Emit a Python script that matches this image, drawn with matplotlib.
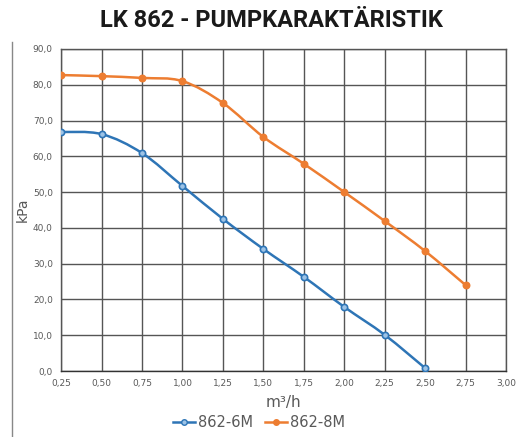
import numpy as np
import matplotlib.pyplot as plt
from matplotlib.path import Path
from matplotlib.patches import PathPatch
from matplotlib.lines import Line2D

flow = [0.25, 0.50, 0.75, 1.00, 1.25, 1.50, 1.75, 2.00, 2.25, 2.50, 2.75]
kpa_6m = [66.8, 66.2, 60.9, 51.7, 42.5, 34.1, 26.3, 17.9, 10.1, 0.8]
kpa_8m = [82.7, 82.4, 81.9, 81.0, 74.9, 65.4, 57.9, 50.0, 41.9, 33.5, 24.0]
xticks = [0.25, 0.50, 0.75, 1.00, 1.25, 1.50, 1.75, 2.00, 2.25, 2.50, 2.75, 3.00]
yticks = [0, 10, 20, 30, 40, 50, 60, 70, 80, 90]

blue = "#2E75B6"
orange = "#ED7D31"
grey = "#595959"


def smooth_path(x, y, k=1/6):
    # Catmull-Rom style bezier, like Excel's "smoothed line"
    pts = np.column_stack([x, y])
    verts = [pts[0]]
    codes = [Path.MOVETO]
    n = len(pts)
    for i in range(n - 1):
        p0 = pts[max(i - 1, 0)]
        p1 = pts[i]
        p2 = pts[i + 1]
        p3 = pts[min(i + 2, n - 1)]
        c1 = p1 + (p2 - p0) * k
        c2 = p2 - (p3 - p1) * k
        verts += [c1, c2, p2]
        codes += [Path.CURVE4] * 3
    return Path(verts, codes)


fig = plt.figure(figsize=(5.18, 4.37), dpi=100)
ax = fig.add_axes([0.118, 0.151, 0.859, 0.737])

for x, y, c, mfc in [(flow[:len(kpa_6m)], kpa_6m, blue, "#9DC3E6"),
                     (flow, kpa_8m, orange, orange)]:
    ax.add_patch(PathPatch(smooth_path(x, y), fill=False, edgecolor=c, lw=1.8, zorder=3))
    ax.plot(x, y, ls="none", marker="o", ms=4.5, color=c, mfc=mfc, mew=1.2, zorder=4)

ax.set_xlim(0.25, 3.0)
ax.set_ylim(0, 90)
ax.set_xticks(xticks)
ax.set_yticks(yticks)
ax.set_xticklabels([f"{v:.2f}".replace(".", ",") for v in xticks])
ax.set_yticklabels([f"{v:.1f}".replace(".", ",") for v in yticks])
ax.tick_params(length=0, labelsize=6.5, labelcolor=grey, pad=6)
ax.grid(True, color="#555555", lw=1.0)
for s in ax.spines.values():
    s.set_color("#555555")
    s.set_linewidth(1.0)
ax.spines["bottom"].set_color("#333333")
ax.set_axisbelow(True)

ax.set_ylabel("kPa", fontsize=10, color=grey, labelpad=2)
ax.set_xlabel("m³/h", fontsize=11, color=grey, labelpad=5)

fig.text(0.524, 0.952, "LK 862 - PUMPKARAKTÄRISTIK", ha="center", va="center",
         fontsize=17, fontweight="bold", family="Roboto", color="#1a1a1a")
fig.add_artist(Line2D([0.024, 0.024], [0.0, 0.905], color="#888888", lw=1.0))

handles = [Line2D([], [], color=blue, marker="o", ms=4, mfc="#9DC3E6", lw=1.8),
           Line2D([], [], color=orange, marker="o", ms=4, lw=1.8)]
fig.legend(handles, ["862-6M", "862-8M"], loc="center", bbox_to_anchor=(0.5, 0.034),
           ncol=2, frameon=False, fontsize=10.5, handlelength=1.5, handletextpad=0.2,
           columnspacing=0.8, labelcolor=grey)

fig.savefig("out.png", dpi=100)
